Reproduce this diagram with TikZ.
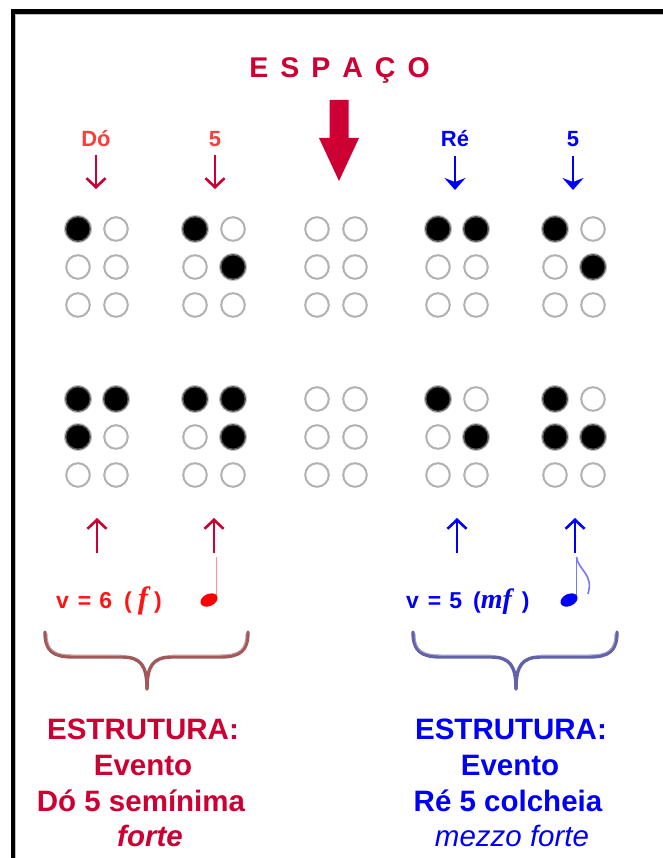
\documentclass[tikz,border=0pt]{standalone}
\usepackage{fontspec}
\setmainfont{Liberation Sans}
\newfontfamily\dynfont{Liberation Serif}
\usetikzlibrary{arrows.meta}
\definecolor{crim}{RGB}{204,0,51}
\definecolor{salm}{RGB}{250,62,62}
\definecolor{bred}{RGB}{255,20,20}
\definecolor{pblue}{RGB}{0,0,250}
\definecolor{brbrace}{RGB}{160,88,88}
\definecolor{blbrace}{RGB}{98,98,170}
\definecolor{dotgray}{RGB}{178,178,178}
\definecolor{stempink}{RGB}{255,150,150}
\definecolor{stemblue}{RGB}{120,120,255}
\newcommand\bdot[3]{%
  \ifnum#3=1
    \fill[black!22] (#1,#2) circle[radius=14];
    \fill[black!65] (#1,#2) circle[radius=13];
    \fill[black] (#1,#2) circle[radius=11.5];
  \else
    \draw[dotgray, line width=2] (#1,#2) circle[radius=11.8];
  \fi}
\newcommand\bcell[8]{%
  \bdot{#1}{#2}{#3}\bdot{#1}{#2+38}{#4}\bdot{#1}{#2+76}{#5}%
  \bdot{#1+38}{#2}{#6}\bdot{#1+38}{#2+38}{#7}\bdot{#1+38}{#2+76}{#8}}
\begin{document}
\begin{tikzpicture}[x=1pt,y=-1pt,
  titletext/.style={font=\bfseries\fontsize{28.5}{30}\selectfont, text=crim, anchor=base, inner sep=0},
  lbl/.style={font=\bfseries\fontsize{22}{24}\selectfont, anchor=base, inner sep=0},
  vtext/.style={font=\bfseries\fontsize{23}{25}\selectfont, anchor=base west, inner sep=0},
  bottomtext/.style={font=\bfseries\fontsize{29.5}{31}\selectfont, anchor=base, inner sep=0},
  redarrow/.style={crim, line width=2.6, -{Straight Barb[length=9pt,width=19pt]}},
  bluearrow/.style={pblue, line width=2.6, -{Stealth[length=12pt,width=21pt,inset=4pt]}},
  uparrow/.style={line width=2.6, -{Straight Barb[length=9pt,width=19pt]}},
  bracestyle/.style={line width=3.4, line cap=round, line join=round},
]
\useasboundingbox (0,0) rectangle (662,858);
\fill[white] (0,0) rectangle (662,858);
% frame
\draw[line width=4.5] (13,862) -- (13,11.5) -- (666,11.5);
\draw[black!25, line width=1] (15.5,862) -- (15.5,14.5) -- (666,14.5);

% title
\node[titletext] (esp) at (339.5,78) {E\hspace{12pt}S\hspace{12pt}P\hspace{12pt}A\hspace{12pt}Ç\hspace{12pt}O};
% big arrow
\fill[crim] (329.5,100) -- (348.5,100) -- (348.5,138) -- (359,138) -- (339,181) -- (319,138) -- (329.5,138) -- cycle;

% labels
\node[lbl, text=salm] (lDo) at (96,147) {Dó};
\node[lbl, text=salm] (lFa) at (215,147) {5};
\node[lbl, text=pblue] (lRe) at (455,147) {Ré};
\node[lbl, text=pblue] (lFb) at (573,147) {5};
\coordinate (tDo) at (96,189);
\coordinate (tFa) at (215,189);
\coordinate (tRe) at (455,190);
\coordinate (tFb) at (573,190);
\draw[redarrow] (96,155) -- (tDo);
\draw[redarrow] (215,155) -- (tFa);
\draw[bluearrow] (455,156) -- (tRe);
\draw[bluearrow] (573,156) -- (tFb);

% braille cells, upper row
\bcell{78}{229}{1}{0}{0}{0}{0}{0}
\bcell{195}{229}{1}{0}{0}{0}{1}{0}
\bcell{317}{229}{0}{0}{0}{0}{0}{0}
\bcell{438}{229}{1}{0}{0}{1}{0}{0}
\bcell{555}{229}{1}{0}{0}{0}{1}{0}
% lower row
\bcell{78}{399}{1}{1}{0}{1}{0}{0}
\bcell{195}{399}{1}{0}{0}{1}{1}{0}
\bcell{317}{399}{0}{0}{0}{0}{0}{0}
\bcell{438}{399}{1}{0}{0}{0}{1}{0}
\bcell{555}{399}{1}{1}{0}{0}{1}{0}

% up arrows
\coordinate (uA0) at (97,553); \coordinate (uA1) at (97,518);
\coordinate (uB0) at (214,553); \coordinate (uB1) at (214,518);
\coordinate (uC0) at (457,553); \coordinate (uC1) at (457,518);
\coordinate (uD0) at (575,553); \coordinate (uD1) at (575,518);
\draw[uparrow, crim] (uA0) -- (uA1);
\draw[uparrow, crim] (uB0) -- (uB1);
\draw[uparrow, pblue] (uC0) -- (uC1);
\draw[uparrow, pblue] (uD0) -- (uD1);

% velocity texts
\node[vtext, text=bred] (vr) at (56,608) {v\hspace{9pt}=\hspace{8pt}6\hspace{12pt}(\hspace{6pt}{\dynfont\bfseries\itshape\fontsize{31}{31}\selectfont f}\hspace{6pt})};
\node[vtext, text=pblue] (vb) at (406,608) {v\hspace{9pt}=\hspace{8pt}5\hspace{11pt}({\dynfont\bfseries\itshape\fontsize{28}{28}\selectfont mf}\hspace{10pt})};

% quarter note
\draw[stempink, line width=1.6] (216.5,601) -- (216.5,557);
\fill[red, rotate around={25:(209,600)}] (209,600) ellipse[x radius=9, y radius=6];
% eighth note
\draw[stemblue, line width=1.6] (576.5,601) -- (576.5,557);
\draw[stemblue, line width=1.6] (576.5,557) .. controls (578,570) and (594,574) .. (588,594);
\fill[pblue, rotate around={25:(569,600)}] (569,600) ellipse[x radius=9, y radius=6];

% braces
\draw[brbrace, bracestyle] (45,632) .. controls (45,651) and (53,657) .. (73,657) -- (122,657) .. controls (141,657) and (147,666) .. (147,689);
\draw[brbrace, bracestyle] (248,632) .. controls (248,651) and (240,657) .. (220,657) -- (172,657) .. controls (153,657) and (147,666) .. (147,689);
\draw[brbrace!60!white, line width=1] (47,634) .. controls (47,650) and (54,655) .. (73,655) -- (122,655);
\draw[brbrace!60!white, line width=1] (246,634) .. controls (246,650) and (239,655) .. (220,655) -- (172,655);
\draw[blbrace, bracestyle] (413,632) .. controls (413,651) and (421,657) .. (441,657) -- (491,657) .. controls (510,657) and (516,666) .. (516,689);
\draw[blbrace, bracestyle] (617,632) .. controls (617,651) and (609,657) .. (589,657) -- (541,657) .. controls (522,657) and (516,666) .. (516,689);
\draw[blbrace!60!white, line width=1] (415,634) .. controls (415,650) and (422,655) .. (441,655) -- (491,655);
\draw[blbrace!60!white, line width=1] (615,634) .. controls (615,650) and (608,655) .. (589,655) -- (541,655);

% bottom texts
\node[bottomtext, text=crim] (r1) at (143,739) {ESTRUTURA:};
\node[bottomtext, text=crim] (r2) at (143,775) {Evento};
\node[bottomtext, text=crim] (r3) at (141,811) {Dó 5 semínima};
\node[bottomtext, text=crim, font=\bfseries\itshape\fontsize{29.5}{31}\selectfont] (r4) at (150,846) {forte};
\node[bottomtext, text=pblue] (b1) at (511,739) {ESTRUTURA:};
\node[bottomtext, text=pblue] (b2) at (510,775) {Evento};
\node[bottomtext, text=pblue] (b3) at (508,811) {Ré 5 colcheia};
\node[bottomtext, text=pblue, font=\itshape\fontsize{29.5}{31}\selectfont] (b4) at (512,846) {mezzo forte};
\end{tikzpicture}
\end{document}
